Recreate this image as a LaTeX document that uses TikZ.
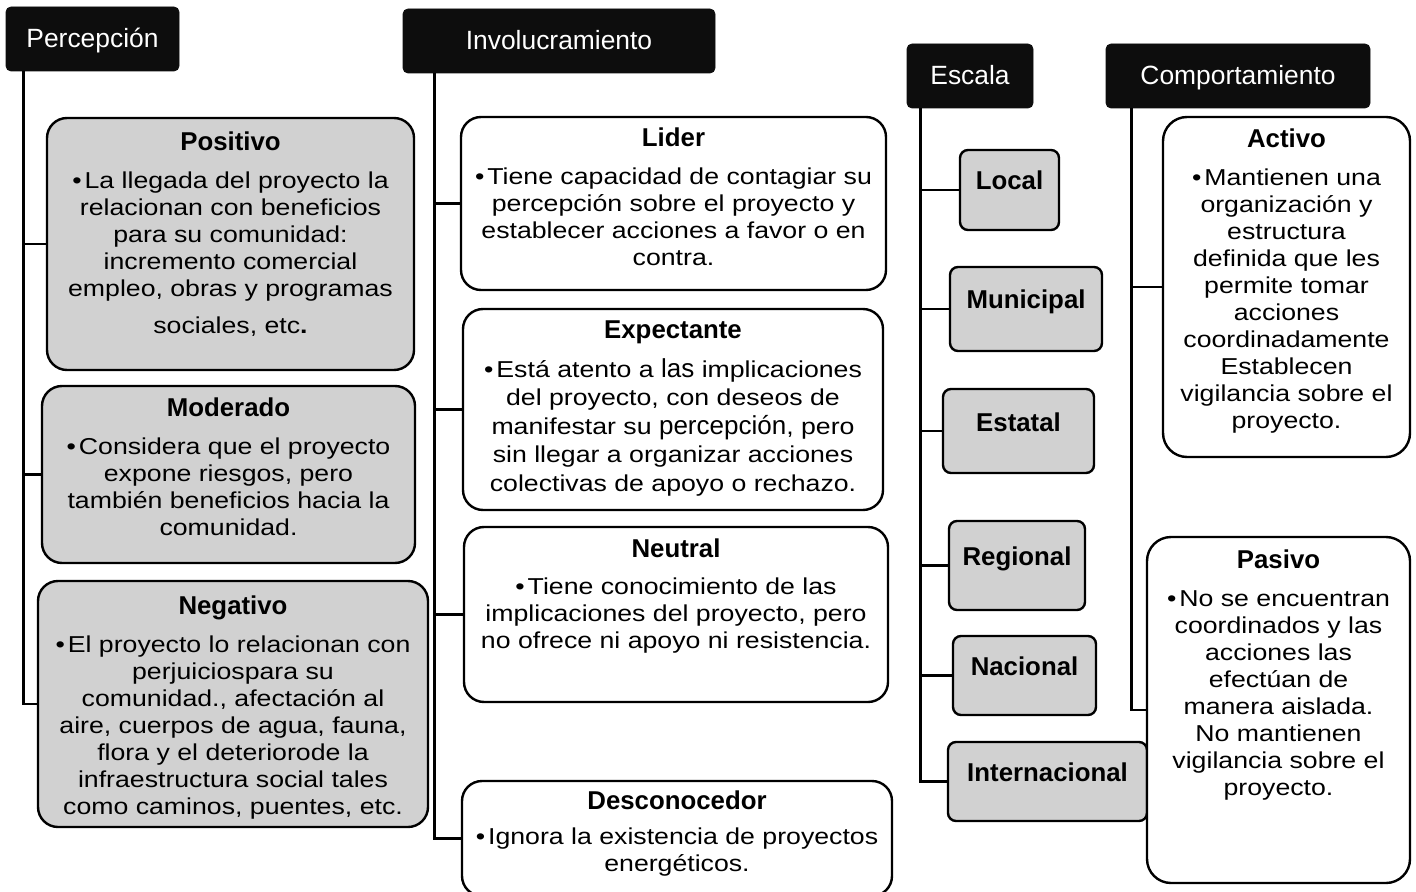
\documentclass[tikz,border=0pt]{standalone}
\usepackage{fontspec}
\setmainfont{Liberation Sans}
\newfontfamily\wideFont{Liberation Sans}[FakeStretch=1.16]
\usetikzlibrary{fit,calc}

\newcommand\boxTitle[1]{{\rmfamily\bfseries\fontsize{12.9}{13.5}\selectfont #1}}
\newcommand\bigWord[1]{{\rmfamily\fontsize{13}{13.5}\selectfont #1}}
\newcommand\blt{•\kern1.5pt}

\tikzset{
  header/.style={fill=headColour, draw=headColour, rounded corners=2.5pt, inner sep=0pt},
  headerText/.style={text=white, inner sep=0pt, anchor=base, font=\fontsize{13.2}{15}\selectfont},
  greyBox/.style={draw=black, line width=1.2pt, fill=fillGrey, rounded corners=10pt, inner sep=0pt},
  whiteBox/.style={greyBox, fill=white},
  levelBox/.style={greyBox, rounded corners=4pt},
  boxText/.style={align=center, inner sep=0pt, anchor=north,
    font=\wideFont\fontsize{11.5}{13.5}\selectfont},
  levelText/.style={inner sep=0pt, anchor=base, font=\bfseries\fontsize{12.9}{15}\selectfont},
  branch/.style={line width=1.2pt}
}

\begin{document}
\begin{tikzpicture}[x=0.5pt, y=-0.5pt]
    \definecolor{headColour}{HTML}{0D0D0D}
    \definecolor{fillGrey}{HTML}{D1D1D1}

    \useasboundingbox (0,0) rectangle (1416,892);

    % Headers
    \node[header, fit={(6,7) (179,71)}] (per) {};
    \node[header, fit={(403,9) (715,73)}] (inv) {};
    \node[header, fit={(907,44) (1033,108)}] (esc) {};
    \node[header, fit={(1106,44) (1370,108)}] (com) {};

    \node[headerText] (per-t) at ($(per.center)+(0,9)$) {Percepción};
    \node[headerText] (inv-t) at ($(inv.center)+(0,8.5)$) {Involucramiento};
    \node[headerText] (esc-t) at ($(esc.center)+(0,9)$) {Escala};
    \node[headerText] (com-t) at ($(com.center)+(0,9)$) {Comportamiento};

    % Percepcion boxes
    \node[greyBox, fit={(47,118) (414,370)}] (pos) {};
    \node[greyBox, fit={(42,386) (415,563)}] (mod) {};
    \node[greyBox, fit={(38,581) (428,827)}] (neg) {};

    \node[boxText] (pos-t) at ($(pos.north)+(0,14.5)$) {\boxTitle{Positivo}\\[5.5pt]
        \blt La llegada del proyecto la\\ relacionan con beneficios\\ para su comunidad:\\
        incremento comercial\\ empleo, obras y programas\\[5pt] sociales, etc\textbf{.}};
    \node[boxText] (mod-t) at ($(mod.north)+(0,12.5)$) {\boxTitle{Moderado}\\[5.5pt]
        \blt Considera que el proyecto\\ expone riesgos, pero\\ también beneficios hacia la\\ comunidad.};
    \node[boxText] (neg-t) at ($(neg.north)+(0,15.5)$) {\boxTitle{Negativo}\\[5.5pt]
        \blt El proyecto lo relacionan con\\ perjuiciospara su\\ comunidad., afectación al\\
        aire, cuerpos de agua, fauna,\\ flora y el deteriorode la\\ infraestructura social tales\\
        como caminos, puentes, etc.};

    % Involucramiento boxes
    \node[whiteBox, fit={(461,117) (886,290)}] (lid) {};
    \node[whiteBox, fit={(463,309) (883,510)}] (exp) {};
    \node[whiteBox, fit={(464,527) (888,702)}] (neu) {};
    \node[whiteBox, fit={(462,781) (892,896)}] (des) {};

    \node[boxText] (lid-t) at ($(lid.north)+(0,11.5)$) {\boxTitle{Lider}\\[5.5pt]
        \blt Tiene capacidad de contagiar su\\ percepción sobre el proyecto y\\
        establecer acciones a favor o en\\ contra.};
    \node[boxText] (exp-t) at ($(exp.north)+(0,12.5)$) {\boxTitle{Expectante}\\[6pt]
        \blt Está atento a \bigWord{las} implicaciones\\[0.7pt] del proyecto, con deseos de\\[0.7pt]
        manifestar su \bigWord{percepción}, pero\\[0.7pt] sin llegar a organizar acciones\\[0.7pt]
        colectivas de apoyo o rechazo.};
    \node[boxText] (neu-t) at ($(neu.north)+(0,12.5)$) {\boxTitle{Neutral}\\[5pt]
        \blt Tiene conocimiento de las\\ implicaciones del proyecto, pero\\
        no ofrece ni apoyo ni resistencia.};
    \node[boxText] (des-t) at ($(des.north)+(0,10.5)$) {\boxTitle{Desconocedor}\\[4pt]
        \blt Ignora la existencia de proyectos\\ energéticos.};

    % Escala boxes
    \node[levelBox, fit={(960,150) (1059,230)}] (loc) {};
    \node[levelBox, fit={(950,267) (1102,351)}] (mun) {};
    \node[levelBox, fit={(943,389) (1094,473)}] (est) {};
    \node[levelBox, fit={(949,521) (1085,610)}] (reg) {};
    \node[levelBox, fit={(953,636) (1096,715)}] (nac) {};
    \node[levelBox, fit={(948,742) (1147,821)}] (int) {};

    \node[levelText] (loc-t) at (loc.center) {Local};
    \node[levelText] (mun-t) at (mun.center) {Municipal};
    \node[levelText] (est-t) at (est.center) {Estatal};
    \node[levelText] (reg-t) at (reg.center) {Regional};
    \node[levelText] (nac-t) at (nac.center) {Nacional};
    \node[levelText] (int-t) at (int.center) {Internacional};

    % Comportamiento boxes
    \node[whiteBox, rounded corners=12pt, fit={(1163,117) (1410,457)}] (act) {};
    \node[whiteBox, rounded corners=12pt, fit={(1147,537) (1410,883)}] (pas) {};

    \node[boxText] (act-t) at ($(act.north)+(0,12.5)$) {\boxTitle{Activo}\\[5.5pt]
        \blt Mantienen una\\ organización y\\ estructura\\ definida que les\\ permite tomar\\
        acciones\\ coordinadamente\\ Establecen\\ vigilancia sobre el\\ proyecto.};
    \node[boxText] (pas-t) at ($(pas.north)+(0,13.5)$) {\boxTitle{Pasivo}\\[5.5pt]
        \blt No se encuentran\\ coordinados y las\\ acciones las\\ efectúan de\\
        manera aislada.\\ No mantienen\\ vigilancia sobre el\\ proyecto.};

    % Branches
    \coordinate (per-trunk) at ($(per.south west)+(18,0)$);
    \coordinate (inv-trunk) at ($(inv.south west)+(32,0)$);
    \coordinate (esc-trunk) at ($(esc.south west)+(14,0)$);
    \coordinate (com-trunk) at ($(com.south west)+(26,0)$);

    \foreach \b in {pos,mod,neg}
        \draw[branch] (per-trunk) |- (\b.west);
    \foreach \b in {lid,exp,neu,des}
        \draw[branch] (inv-trunk) |- (\b.west);
    \foreach \b in {loc,mun,est,reg,nac,int}
        \draw[branch] (esc-trunk) |- (\b.west);
    \foreach \b in {act,pas}
        \draw[branch] (com-trunk) |- (\b.west);

\end{tikzpicture}
\end{document}
